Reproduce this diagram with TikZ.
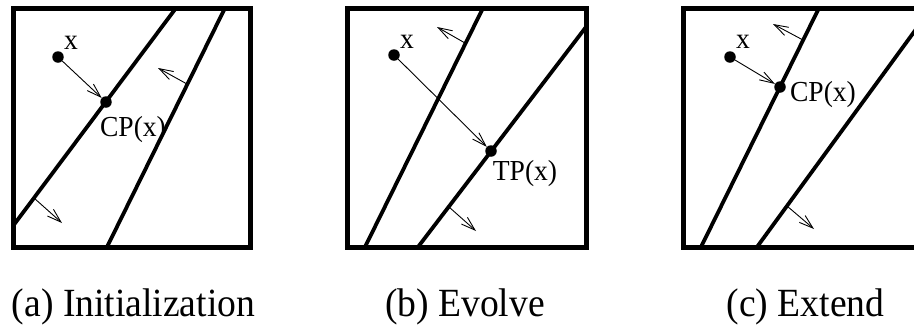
\documentclass[tikz,border=0pt]{standalone}
\usepackage{fontspec}
\setmainfont{Liberation Serif}
\usetikzlibrary{arrows.meta}

\begin{document}
\begin{tikzpicture}[x=1pt, y=-1pt,
  frame/.style={line width=5pt},
  front/.style={line width=3.8pt},
  vec/.style={line width=0.9pt, -{Straight Barb[length=14pt,width=9pt]}},
  dot/.style={circle, fill, inner sep=0pt, minimum size=11.5pt},
  lbl/.style={inner sep=0pt, xscale=0.95, font=\fontsize{29}{34}\selectfont},
  caption/.style={inner sep=0pt, anchor=base, xscale=0.94, font=\fontsize{40}{46}\selectfont}]
  \useasboundingbox (0,0) rectangle (914,325);
  % Left panel: initialization
  \begin{scope}[shift={(13,8)}]
    \coordinate (a1t) at (163,0);
    \coordinate (a1b) at (0,218);
    \coordinate (a2t) at (212,0);
    \coordinate (a2b) at (94,239);
    \draw[front] (a1t) -- (a1b);
    \draw[front] (a2t) -- (a2b);
    % normals
    \coordinate (na1) at (21,190);
    \coordinate (na1e) at (49,215);
    \draw[vec] (na1) -- (na1e);
    \coordinate (na2) at (174,76);
    \coordinate (na2e) at (145,60);
    \draw[vec] (na2) -- (na2e);
    % point and closest point
    \node[dot] (xa) at (45,49) {};
    \node[dot] (cpa) at (93,94) {};
    \draw[vec] (xa) -- (cpa);
    \node[lbl] (xla) at (58,35) {x};
    \node[lbl] (cpla) at (120,122) {CP(x)};
    \draw[frame] (0,0) rectangle (237,239);
  \end{scope}
  % Middle panel: evolve
  \begin{scope}[shift={(347,8)}]
    \coordinate (b1t) at (136,0);
    \coordinate (b1b) at (18,239);
    \coordinate (b2t) at (239,19);
    \coordinate (b2b) at (71,239);
    \draw[front] (b1t) -- (b1b);
    \draw[front] (b2t) -- (b2b);
    % normals
    \coordinate (nb1) at (118,35);
    \coordinate (nb1e) at (90,19);
    \draw[vec] (nb1) -- (nb1e);
    \coordinate (nb2) at (102,199);
    \coordinate (nb2e) at (129,223);
    \draw[vec] (nb2) -- (nb2e);
    % point and target point
    \node[dot] (xb) at (47,47) {};
    \node[dot] (tpb) at (144,143) {};
    \draw[vec] (xb) -- (tpb);
    \node[lbl] (xlb) at (60,34) {x};
    \node[lbl] (tplb) at (178,166) {TP(x)};
    \draw[frame] (0,0) rectangle (239,239);
  \end{scope}
  % Right panel: extend
  \begin{scope}[shift={(683,8)}]
    \coordinate (c1t) at (136,0);
    \coordinate (c1b) at (18,239);
    \coordinate (c2t) at (239,13);
    \coordinate (c2b) at (74,239);
    \draw[front] (c1t) -- (c1b);
    \draw[front] (c2t) -- (c2b);
    % normals
    \coordinate (nc1) at (120,32);
    \coordinate (nc1e) at (90,16);
    \draw[vec] (nc1) -- (nc1e);
    \coordinate (nc2) at (104,198);
    \coordinate (nc2e) at (131,221);
    \draw[vec] (nc2) -- (nc2e);
    % point and closest point
    \node[dot] (xc) at (47,49) {};
    \node[dot] (cpc) at (97,79) {};
    \draw[vec] (xc) -- (cpc);
    \node[lbl] (xlc) at (60,34) {x};
    \node[lbl] (cplc) at (140,87) {CP(x)};
    \draw[frame] (0,0) rectangle (239,239);
  \end{scope}
  % captions
  \node[caption] (capa) at (133.5,316) {(a) Initialization};
  \node[caption] (capb) at (465,316) {(b) Evolve};
  \node[caption] (capc) at (805.5,316) {(c) Extend};
\end{tikzpicture}
\end{document}
